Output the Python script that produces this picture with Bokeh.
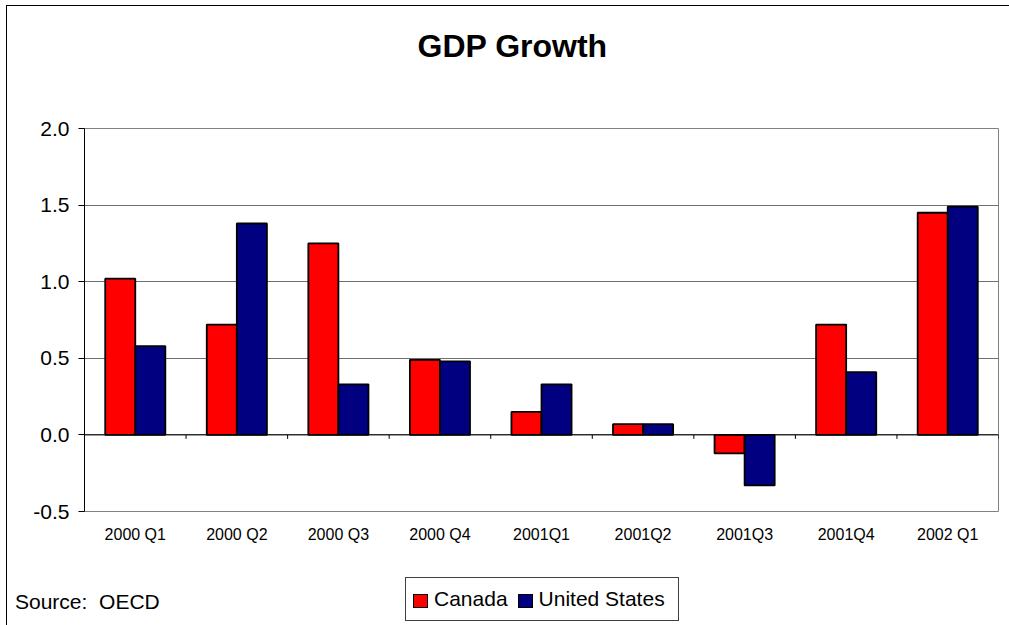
from bokeh.plotting import figure
from bokeh.layouts import column
from bokeh.models import (FactorRange, Range1d, Span, Label, Div,
                          FixedTicker, PrintfTickFormatter, ColumnDataSource)
from bokeh.transform import dodge
from bokeh.embed import file_html
from bokeh.resources import INLINE

# ---- data ----
quarters = ["2000 Q1", "2000 Q2", "2000 Q3", "2000 Q4", "2001Q1",
            "2001Q2", "2001Q3", "2001Q4", "2002 Q1"]
canada = [1.02, 0.72, 1.25, 0.49, 0.15, 0.07, -0.12, 0.72, 1.45]
united_states = [0.58, 1.38, 0.33, 0.48, 0.33, 0.07, -0.33, 0.41, 1.49]
y_ticks = [-0.5, 0.0, 0.5, 1.0, 1.5, 2.0]
series_names = ["Canada", "United States"]
series_colors = ["#FF0000", "#000080"]
title_text = "GDP Growth"
source_text = "Source:  OECD"

FONT = "Liberation Sans"
W = 1002

src = ColumnDataSource(dict(q=quarters, canada=canada, us=united_states,
                            zero=[0.0] * len(quarters),
                            tick_end=[-0.026] * len(quarters)))

# ---- header with the title ----
header = figure(width=W, height=80, x_range=Range1d(0, 1), y_range=Range1d(0, 1),
                x_axis_type=None, y_axis_type=None, output_backend="svg",
                toolbar_location=None, min_border=0)
header.outline_line_color = None
header.background_fill_color = "white"
header.border_fill_color = "white"
header.add_layout(Label(x=333, y=41, x_units="screen", y_units="screen",
                        text=title_text, text_font=FONT, text_font_size="32px",
                        text_font_style="bold", text_baseline="alphabetic",
                        text_align="left", text_color="black"))

# ---- main chart ----
p = figure(x_range=FactorRange(*quarters, range_padding=0),
           y_range=Range1d(-0.5, 2.0),
           width=W, height=470, output_backend="svg", toolbar_location=None,
           min_border_left=77, min_border_right=11, min_border_top=42,
           min_border_bottom=45)

p.background_fill_color = "white"
p.border_fill_color = "white"
p.outline_line_color = "#808080"
p.outline_line_width = 1

r_ca = p.vbar(x=dodge("q", -0.148, range=p.x_range), top="canada", bottom=0,
              width=0.296, source=src, fill_color=series_colors[0],
              line_color="black", line_width=1.8)
r_us = p.vbar(x=dodge("q", 0.148, range=p.x_range), top="us", bottom=0,
              width=0.296, source=src, fill_color=series_colors[1],
              line_color="black", line_width=1.8)

p.add_layout(Span(location=0, dimension="width", line_color="black", line_width=1))
p.segment(x0=dodge("q", 0.5, range=p.x_range), y0="zero",
          x1=dodge("q", 0.5, range=p.x_range), y1="tick_end",
          source=src, line_color="black", line_width=1)

p.xgrid.visible = False
p.ygrid.grid_line_color = "#707070"
p.ygrid.grid_line_width = 1

p.yaxis.ticker = FixedTicker(ticks=y_ticks)
p.yaxis.formatter = PrintfTickFormatter(format="%.1f")
p.yaxis.axis_line_color = "black"
p.yaxis.major_tick_line_color = "black"
p.yaxis.major_tick_out = 6
p.yaxis.major_tick_in = 0
p.yaxis.minor_tick_line_color = None
p.yaxis.major_label_text_font = FONT
p.yaxis.major_label_text_font_size = "21px"
p.yaxis.major_label_text_color = "black"
p.yaxis.major_label_standoff = 9

p.xaxis.axis_line_color = None
p.xaxis.major_tick_line_color = None
p.xaxis.minor_tick_line_color = None
p.xaxis.major_tick_out = 0
p.xaxis.major_label_text_font = FONT
p.xaxis.major_label_text_font_size = "16px"
p.xaxis.major_label_text_color = "black"
p.xaxis.major_label_standoff = 14

# ---- footer: legend and source note ----
items_html = ""
for i, (name, col) in enumerate(zip(series_names, series_colors)):
    ml = "0" if i == 0 else "10px"
    items_html += (
        f'<span style="display:inline-flex;align-items:center;margin-left:{ml};">'
        f'<span style="display:inline-block;width:13px;height:12px;background:{col};'
        f'border:1px solid black;margin-right:6px;margin-top:3px;"></span>'
        f'<span>{name}</span></span>')

footer_html = (
    f'<div style="position:relative;width:{W - 10}px;height:64px;'
    f"font-family:'{FONT}',Arial,sans-serif;color:black;\">"
    f'<div style="position:absolute;left:3px;top:29px;font-size:21px;'
    f'line-height:24px;white-space:pre;">{source_text}</div>'
    f'<div style="position:absolute;left:393px;top:16px;height:42px;'
    f'box-sizing:content-box;border:1px solid #404040;padding:0 13px 0 7px;'
    f'display:flex;align-items:center;font-size:21px;line-height:24px;'
    f'white-space:pre;background:white;">{items_html}</div>'
    f'</div>')

footer = Div(text=footer_html, width=W, height=69)

layout = column(header, p, footer, spacing=0,
                styles={"margin-left": "6px", "margin-top": "5px",
                        "border-left": "1px solid black",
                        "border-top": "1px solid black"})

open("out.html", "w").write(file_html(layout, INLINE))
